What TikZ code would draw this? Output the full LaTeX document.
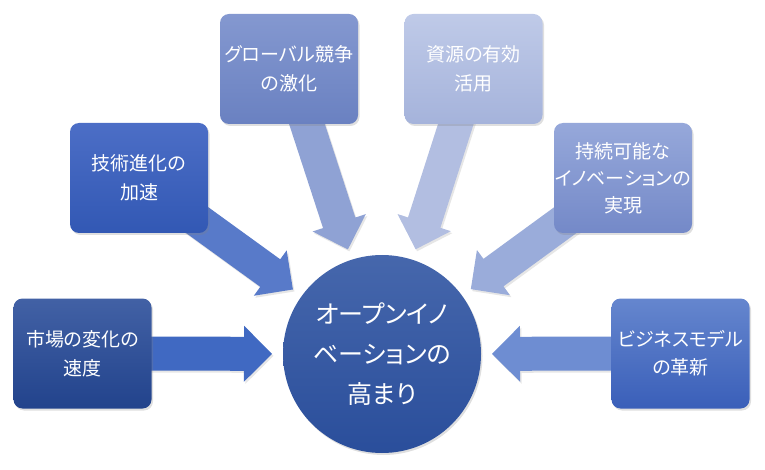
\documentclass[tikz,border=0pt]{standalone}
\usepackage{fontspec}
\newfontfamily\jp{Noto Sans CJK JP}[RawFeature=+palt]
\usetikzlibrary{calc,shadows,backgrounds}
\definecolor{b1t}{HTML}{4261A5}\definecolor{b1b}{HTML}{22438C}\definecolor{a1}{HTML}{4069C2}
\definecolor{b2t}{HTML}{4C6EC6}\definecolor{b2b}{HTML}{3258B4}\definecolor{a2}{HTML}{587AC9}
\definecolor{b3t}{HTML}{8498D0}\definecolor{b3b}{HTML}{6A81C1}\definecolor{a3}{HTML}{8FA2D4}
\definecolor{b4t}{HTML}{BFCAE8}\definecolor{b4b}{HTML}{A5B3DB}\definecolor{a4}{HTML}{B2BEE1}
\definecolor{b5t}{HTML}{96A8DA}\definecolor{b5b}{HTML}{7489C8}\definecolor{a5}{HTML}{9AACDA}
\definecolor{b6t}{HTML}{6586CE}\definecolor{b6b}{HTML}{3A5FB9}\definecolor{a6}{HTML}{6E8DD2}
\definecolor{ct}{HTML}{4667AC}\definecolor{cb}{HTML}{2A4E9B}
\newcommand\blockarr[2]{%
  \coordinate (T) at ($(circ.center)!110pt!(#1.center)$);
  \coordinate (H) at ($(T)!28pt!(#1.center)$);
  \fill[#2, ashadow] ($(#1.center)!17pt!90:(T)$) -- ($(H)!17pt!90:(T)$) -- ($(H)!28pt!90:(T)$) -- (T)
    -- ($(H)!28pt!-90:(T)$) -- ($(H)!17pt!-90:(T)$) -- ($(#1.center)!17pt!-90:(T)$) -- cycle;
}
\begin{document}
\begin{tikzpicture}[x=1pt,y=-1pt,
  box/.style={rounded corners=9pt, minimum width=138pt, minimum height=110pt, inner sep=0pt,
    align=center, text=white, font=\jp\fontsize{19}{29}\selectfont,
    drop shadow={opacity=0.25,shadow xshift=1.5pt,shadow yshift=-2pt}},
  ashadow/.style={drop shadow={opacity=0.2,shadow xshift=1.5pt,shadow yshift=-2pt}}
]
\useasboundingbox (0,0) rectangle (765,470);
\node[box, top color=b1t, bottom color=b1b] (b1) at (82.5,353.5) {市場の変化の\\速度};
\node[box, top color=b2t, bottom color=b2b] (b2) at (139,178) {技術進化の\\加速};
\node[box, top color=b3t, bottom color=b3b] (b3) at (289,69) {グローバル競争\\の激化};
\node[box, top color=b4t, bottom color=b4b] (b4) at (473.5,69) {資源の有効\\活用};
\node[box, top color=b5t, bottom color=b5b, font=\jp\fontsize{19}{27}\selectfont] (b5) at (623,178) {持続可能な\\イノベーションの\\実現};
\node[box, top color=b6t, bottom color=b6b, font=\jp\fontsize{19}{28}\selectfont] (b6) at (680.5,353.5) {ビジネスモデル\\の革新};
\node[circle, minimum size=198pt, inner sep=0pt, top color=ct, bottom color=cb, align=center, text=white,
  font=\jp\fontsize{25}{40}\selectfont, drop shadow={opacity=0.25,shadow xshift=1.5pt,shadow yshift=-2pt}]
  (circ) at (382,354) {オープンイノ\\ベーションの\\高まり};
\begin{pgfonlayer}{background}
\blockarr{b1}{a1}
\blockarr{b2}{a2}
\blockarr{b3}{a3}
\blockarr{b4}{a4}
\blockarr{b5}{a5}
\blockarr{b6}{a6}
\end{pgfonlayer}
\end{tikzpicture}
\end{document}
